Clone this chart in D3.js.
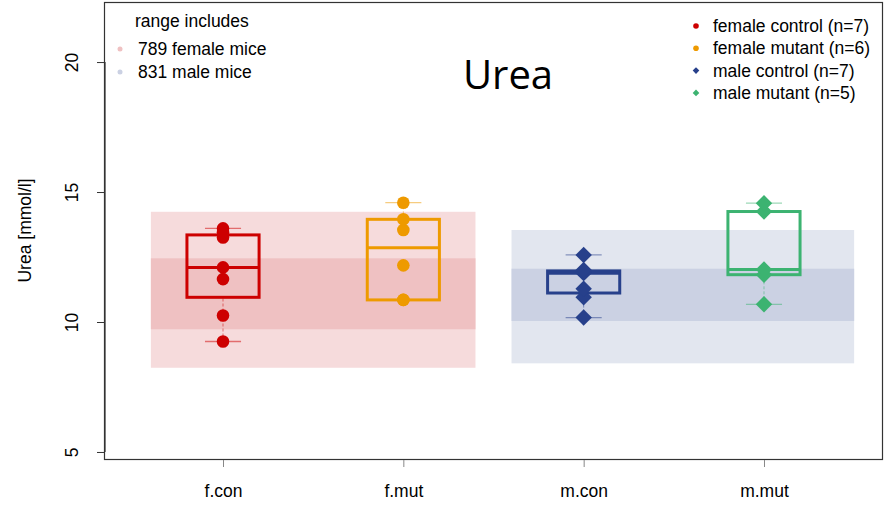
<!DOCTYPE html>
<html>
<head>
<meta charset="utf-8">
<script src="https://cdn.jsdelivr.net/npm/d3@7"></script>
<style>
  html, body { margin: 0; padding: 0; background: #fff; }
  svg { display: block; }
  text { font-family: "Liberation Sans", Arial, Helvetica, sans-serif; }
</style>
</head>
<body>
<svg id="chart" width="889" height="505"></svg>
<script>
// Groups along the x axis
const groups = ["f.con", "f.mut", "m.con", "m.mut"];
const groupNames = ["female control", "female mutant", "male control", "male mutant"];
const groupColors = ["#CD0000", "#EE9A00", "#27408B", "#3CB371"];
const groupShapes = ["circle", "circle", "diamond", "diamond"];

// Urea measurements per animal [mmol/l]
const fCon = [9.25, 10.25, 11.65, 12.1, 13.25, 13.45, 13.6];
const fMut = [10.85, 10.85, 12.18, 13.54, 13.95, 14.59];
const mCon = [10.17, 10.95, 11.28, 11.88, 11.93, 12.0, 12.58];
const mMut = [10.68, 11.82, 12.02, 14.25, 14.57];
const groupValues = [fCon, fMut, mCon, mMut];

// Reference ranges from the wider population
const refLabels = ["789 female mice", "831 male mice"];
const refOuter = [[8.24, 14.24], [8.41, 13.54]];
const refInner = [[9.72, 12.45], [10.04, 12.05]];
const refSpan = [[0.6, 2.4], [2.6, 4.5]];
const refOuterColors = ["#F6DBDC", "#E2E6EF"];
const refInnerColors = ["#EFC1C2", "#CBD1E3"];

const yTicks = [5, 10, 15, 20];

const svg = d3.select("#chart");
const plotLeft = 104, plotRight = 883, plotTop = 2, plotBottom = 459;
const fs = "17.5px";

const x = d3.scaleLinear().domain([0.34, 4.66]).range([plotLeft, plotRight]);
const y = d3.scaleLinear().domain([4.73, 22.31]).range([plotBottom, plotTop]);

// Reference range bands
refOuter.forEach((r, i) => {
  svg.append("rect")
    .attr("x", x(refSpan[i][0])).attr("width", x(refSpan[i][1]) - x(refSpan[i][0]))
    .attr("y", y(r[1])).attr("height", y(r[0]) - y(r[1]))
    .attr("fill", refOuterColors[i]);
  svg.append("rect")
    .attr("x", x(refSpan[i][0])).attr("width", x(refSpan[i][1]) - x(refSpan[i][0]))
    .attr("y", y(refInner[i][1])).attr("height", y(refInner[i][0]) - y(refInner[i][1]))
    .attr("fill", refInnerColors[i]);
});

// Tukey five-number summary (hinges)
function fivenum(arr) {
  const a = arr.slice().sort((p, q) => p - q);
  const n = a.length;
  const n4 = Math.floor((n + 3) / 2) / 2;
  const d = [1, n4, (n + 1) / 2, n + 1 - n4, n];
  return d.map(v => 0.5 * (a[Math.floor(v) - 1] + a[Math.ceil(v) - 1]));
}

const boxHalf = 0.2, capHalf = 0.1;
groupValues.forEach((vals, i) => {
  const cx = i + 1;
  const col = groupColors[i];
  const [mn, q1, med, q3, mx] = fivenum(vals);
  const g = svg.append("g");
  // whiskers
  [[mn, q1], [q3, mx]].forEach(([a, b]) => {
    if (b - a > 1e-9) {
      g.append("line")
        .attr("x1", x(cx)).attr("x2", x(cx)).attr("y1", y(a)).attr("y2", y(b))
        .attr("stroke", col).attr("stroke-opacity", 0.5).attr("stroke-width", 1)
        .attr("stroke-dasharray", "3,2");
    }
  });
  [mn, mx].forEach(v => {
    g.append("line")
      .attr("x1", x(cx - capHalf)).attr("x2", x(cx + capHalf))
      .attr("y1", y(v)).attr("y2", y(v))
      .attr("stroke", col).attr("stroke-opacity", 0.5).attr("stroke-width", 1.3);
  });
  // box
  g.append("rect")
    .attr("x", x(cx - boxHalf)).attr("width", x(cx + boxHalf) - x(cx - boxHalf))
    .attr("y", y(q3)).attr("height", y(q1) - y(q3))
    .attr("fill", "none").attr("stroke", col).attr("stroke-width", 3);
  g.append("line")
    .attr("x1", x(cx - boxHalf)).attr("x2", x(cx + boxHalf))
    .attr("y1", y(med)).attr("y2", y(med))
    .attr("stroke", col).attr("stroke-width", 3);
  // points
  vals.forEach(v => {
    if (groupShapes[i] === "circle") {
      g.append("circle").attr("cx", x(cx)).attr("cy", y(v)).attr("r", 6.3).attr("fill", col);
    } else {
      g.append("path")
        .attr("d", d3.symbol(d3.symbolSquare, 135)())
        .attr("transform", `translate(${x(cx)},${y(v)}) rotate(45)`)
        .attr("fill", col);
    }
  });
});

// Plot frame
svg.append("rect")
  .attr("x", plotLeft + 0.5).attr("y", plotTop + 0.5)
  .attr("width", plotRight - plotLeft - 1).attr("height", plotBottom - plotTop)
  .attr("fill", "none").attr("stroke", "#333").attr("stroke-width", 1.2);

// Y axis
const yAxis = svg.append("g").attr("transform", `translate(${plotLeft + 1},0)`)
  .call(d3.axisLeft(y).tickValues(yTicks).tickSize(8).tickFormat(d3.format("d")));
yAxis.select(".domain").attr("d", `M-0,${y(5)}V${y(20)}`).attr("stroke", "#333").attr("stroke-width", 1.2);
yAxis.selectAll(".tick line").attr("stroke", "#333");
yAxis.selectAll(".tick text")
  .attr("x", null).attr("dy", null)
  .attr("transform", "translate(-33,0) rotate(-90)")
  .attr("text-anchor", "middle").attr("dy", "0.35em")
  .style("font-size", fs).attr("fill", "#000");

// X axis
const xAxis = svg.append("g").attr("transform", `translate(0,${plotBottom + 1})`)
  .call(d3.axisBottom(x).tickValues([1, 2, 3, 4]).tickSize(7).tickFormat((d, k) => groups[k]));
xAxis.select(".domain").remove();
xAxis.selectAll(".tick line").attr("stroke", "#888");
xAxis.selectAll(".tick text")
  .attr("y", 25).attr("dy", "0.71em")
  .style("font-size", fs).attr("fill", "#000");

// Axis title
svg.append("text")
  .attr("transform", `translate(31,${(plotTop + plotBottom) / 2}) rotate(-90)`)
  .attr("text-anchor", "middle")
  .style("font-size", fs)
  .text("Urea [mmol/l]");

// Chart title
svg.append("text")
  .attr("x", 508).attr("y", 89)
  .attr("text-anchor", "middle")
  .style("font-family", "'Open Sans', 'Noto Sans', sans-serif")
  .style("font-size", "40px")
  .text("Urea");

// Reference range legend
svg.append("text").attr("x", 135).attr("y", 27).style("font-size", fs).text("range includes");
refLabels.forEach((lab, i) => {
  const ly = 49 + i * 23;
  svg.append("circle").attr("cx", 120).attr("cy", ly).attr("r", 2.5).attr("fill", refInnerColors[i]);
  svg.append("text").attr("x", 138).attr("y", ly).attr("dy", "0.35em").style("font-size", fs).text(lab);
});

// Group legend
groupNames.forEach((name, i) => {
  const ly = 26 + i * 22.3;
  if (groupShapes[i] === "circle") {
    svg.append("circle").attr("cx", 696).attr("cy", ly).attr("r", 2.8).attr("fill", groupColors[i]);
  } else {
    svg.append("path")
      .attr("d", d3.symbol(d3.symbolSquare, 22)())
      .attr("transform", `translate(696,${ly}) rotate(45)`)
      .attr("fill", groupColors[i]);
  }
  svg.append("text").attr("x", 713).attr("y", ly).attr("dy", "0.35em")
    .style("font-size", fs)
    .text(`${name} (n=${groupValues[i].length})`);
});
</script>
</body>
</html>
